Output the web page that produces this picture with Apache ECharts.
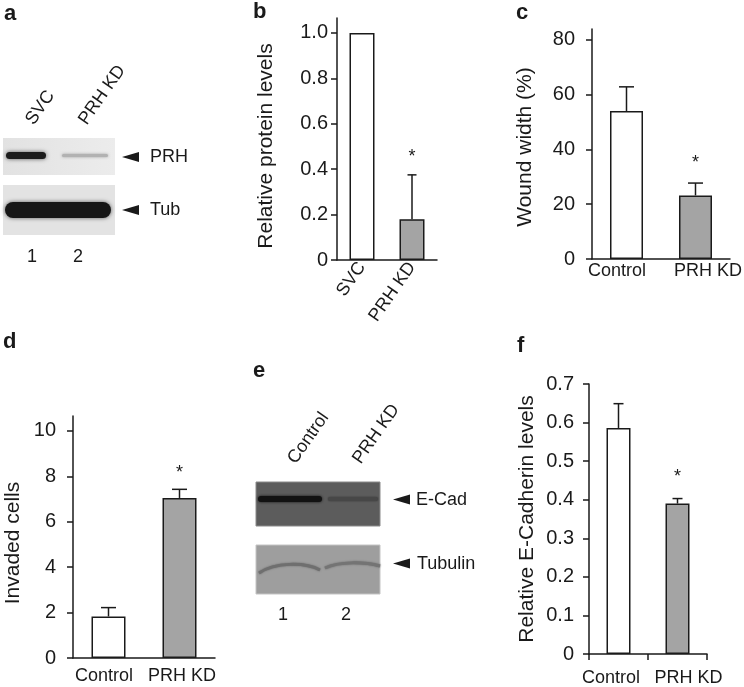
<!DOCTYPE html>
<html><head><meta charset="utf-8">
<script src="https://cdn.jsdelivr.net/npm/echarts@6/dist/echarts.min.js"></script>
<style>html,body{margin:0;padding:0;background:#fff}#c{width:744px;height:687px}</style>
</head><body><div id="c"></div>
<script>
// ---------- data ----------
const categoriesB = ['SVC', 'PRH KD'];
const valuesB = [1.0, 0.18];
const errorsB = [0, 0.195];
const signifB = [0, 1];
const ticksB = [0, 0.2, 0.4, 0.6, 0.8, 1.0];

const categoriesC = ['Control', 'PRH KD'];
const valuesC = [54, 23.2];
const errorsC = [8.8, 4.5];
const signifC = [0, 1];
const ticksC = [0, 20, 40, 60, 80];

const categoriesD = ['Control', 'PRH KD'];
const valuesD = [1.83, 7.05];
const errorsD = [0.39, 0.38];
const signifD = [0, 1];
const ticksD = [0, 2, 4, 6, 8, 10];

const categoriesF = ['Control', 'PRH KD'];
const valuesF = [0.586, 0.39];
const errorsF = [0.063, 0.013];
const signifF = [0, 1];
const ticksF = [0, 0.1, 0.2, 0.3, 0.4, 0.5, 0.6, 0.7];

const laneLabelsA = ['SVC', 'PRH KD'];
const laneNumbersA = ['1', '2'];
const bandLabelsA = ['PRH', 'Tub'];
const laneLabelsE = ['Control', 'PRH KD'];
const laneNumbersE = ['1', '2'];
const bandLabelsE = ['E-Cad', 'Tubulin'];
const panelLetters = ['a', 'b', 'c', 'd', 'e', 'f'];

// ---------- styling ----------
const FONT = "'Liberation Sans', Arial, Helvetica, sans-serif";
const INK = '#1a1a1a';
const GRAY = '#a4a4a4';
const chart = echarts.init(document.getElementById('c'), null, {renderer: 'canvas'});

const panels = [
  {cats: categoriesB, vals: valuesB, errs: errorsB, sig: signifB, ticks: ticksB, dec: 1, max: 1.066,
   name: 'Relative protein levels', grid: {left: 337, top: 18, width: 100, height: 242}, namePad: 14,
   nameGap: 60, yMargin: 9, xMargin: 4, rotate: 55, barWidth: 25, cap: 9, starGap: 18, xTicks: false, shifts: [0, 0]},
  {cats: categoriesC, vals: valuesC, errs: errorsC, sig: signifC, ticks: ticksC, dec: 0, max: 83.9,
   name: 'Wound width (%)', grid: {left: 592, top: 29, width: 142, height: 230}, namePad: 6,
   nameGap: 56, yMargin: 17, xMargin: 3, rotate: 0, barWidth: 33, cap: 15, starGap: 20, xTicks: false, shifts: [-9.5, 12.5]},
  {cats: categoriesD, vals: valuesD, errs: errorsD, sig: signifD, ticks: ticksD, dec: 0, max: 10.66,
   name: 'Invaded cells', grid: {left: 73, top: 416, width: 142, height: 242}, namePad: 12,
   nameGap: 49, yMargin: 17, xMargin: 9, rotate: 0, barWidth: 34, cap: 15, starGap: 16, xTicks: false, shifts: [-4.5, 2.5]},
  {cats: categoriesF, vals: valuesF, errs: errorsF, sig: signifF, ticks: ticksF, dec: 1, max: 0.7,
   name: 'Relative E-Cadherin levels', grid: {left: 589, top: 384, width: 118, height: 270}, namePad: 0,
   nameGap: 51, yMargin: 15, xMargin: 15, rotate: 0, barWidth: 24, cap: 10, starGap: 22, xTicks: true, shifts: [-7.5, 11]}
];

const grids = [], xAxes = [], yAxes = [], series = [];
panels.forEach((p, i) => {
  grids.push(Object.assign({containLabel: false}, p.grid));
  xAxes.push({
    gridIndex: i, type: 'category',
    data: p.cats.map((c, k) => {
      const s = p.shifts[k];
      return {value: c, textStyle: {padding: s < 0 ? [0, -2 * s, 0, 0] : [0, 0, 0, 2 * s]}};
    }),
    axisLine: {show: true, lineStyle: {color: INK, width: 1.5}},
    axisTick: {show: p.xTicks, length: 6, lineStyle: {color: INK, width: 1.5}},
    axisLabel: {fontSize: 18, fontFamily: FONT, color: INK, margin: p.xMargin, rotate: p.rotate, interval: 0},
    splitLine: {show: false}
  });
  yAxes.push({
    gridIndex: i, type: 'value', min: 0, max: p.max,
    axisLine: {show: true, lineStyle: {color: INK, width: 1.5}},
    axisTick: {show: true, length: 6, lineStyle: {color: INK, width: 1.5}, customValues: p.ticks},
    axisLabel: {customValues: p.ticks, fontSize: 20, fontFamily: FONT, color: INK, margin: p.yMargin,
      formatter: v => (v === 0 ? '0' : v.toFixed(p.dec))},
    splitLine: {show: false},
    name: p.name, nameLocation: 'middle', nameRotate: 90, nameGap: p.nameGap,
    nameTextStyle: {fontSize: 21, fontFamily: FONT, color: INK, padding: [0, p.namePad, 0, 0]}
  });
  series.push({
    type: 'bar', xAxisIndex: i, yAxisIndex: i, barWidth: p.barWidth, z: 2,
    itemStyle: {borderColor: INK, borderWidth: 1.5},
    data: p.vals.map((v, k) => ({value: v, itemStyle: {color: k === 0 ? '#ffffff' : GRAY}}))
  });
  series.push({
    type: 'custom', xAxisIndex: i, yAxisIndex: i, z: 3,
    data: p.vals.map((v, k) => [k, v, p.errs[k], p.sig[k]]),
    renderItem: (params, api) => {
      const k = api.value(0), v = api.value(1), e = api.value(2), s = api.value(3);
      const p0 = api.coord([k, v]);
      const p1 = api.coord([k, v + e]);
      const ch = [];
      if (e > 0) {
        ch.push({type: 'line', shape: {x1: p0[0], y1: p0[1], x2: p1[0], y2: p1[1]}, style: {stroke: INK, lineWidth: 1.5}});
        ch.push({type: 'line', shape: {x1: p1[0] - p.cap / 2, y1: p1[1], x2: p1[0] + p.cap / 2, y2: p1[1]}, style: {stroke: INK, lineWidth: 1.5}});
      }
      if (s) {
        ch.push({type: 'text', x: p1[0], y: p1[1] - p.starGap,
          style: {text: '*', font: '18px ' + FONT, fill: INK, align: 'center', verticalAlign: 'middle'}});
      }
      return {type: 'group', children: ch};
    }
  });
});

// ---------- blots & annotations ----------
function txt(x, y, t, opts) {
  return Object.assign({type: 'text', x: x, y: y, style: Object.assign({text: t, font: '18px ' + FONT, fill: INK,
    textAlign: 'left', textVerticalAlign: 'middle'}, (opts && opts.style) || {})}, (opts && opts.el) || {});
}
function arrow(x, y) {
  return {type: 'polygon', shape: {points: [[x, y], [x + 17, y - 5], [x + 17, y + 5]]}, style: {fill: INK}};
}
const rot = Math.PI * 55 / 180;
const letterPos = [[4, 14], [253, 12], [516, 13], [3, 342], [253, 371], [517, 346]];
const graphic = [];
panelLetters.forEach((l, i) => graphic.push(txt(letterPos[i][0], letterPos[i][1], l, {style: {font: 'bold 22px ' + FONT}})));

// panel a blot
graphic.push({type: 'rect', shape: {x: 3, y: 138, width: 112, height: 37},
  style: {fill: new echarts.graphic.LinearGradient(0, 0, 1, 0, [{offset: 0, color: '#e2e2e2'}, {offset: 1, color: '#ececec'}])}});
graphic.push({type: 'rect', shape: {x: 6, y: 152, width: 40, height: 7, r: 3.5},
  style: {fill: '#1c1c1c', shadowBlur: 4, shadowColor: 'rgba(0,0,0,0.6)'}});
graphic.push({type: 'rect', shape: {x: 62, y: 154, width: 46, height: 3, r: 1.5},
  style: {fill: '#b2b2b2', shadowBlur: 3, shadowColor: 'rgba(0,0,0,0.3)'}});
graphic.push({type: 'rect', shape: {x: 3, y: 185, width: 112, height: 50}, style: {fill: '#e3e3e3'}});
graphic.push({type: 'rect', shape: {x: 5, y: 202, width: 106, height: 16, r: 8},
  style: {fill: '#161616', shadowBlur: 4, shadowColor: 'rgba(0,0,0,0.6)'}});
graphic.push(arrow(122, 157), arrow(122, 210));
graphic.push(txt(150, 157, bandLabelsA[0]), txt(150, 210, bandLabelsA[1]));
graphic.push(txt(32, 257, laneNumbersA[0], {style: {textAlign: 'center'}}), txt(78, 257, laneNumbersA[1], {style: {textAlign: 'center'}}));
graphic.push(txt(37, 128, laneLabelsA[0], {el: {rotation: rot}, style: {textVerticalAlign: 'bottom'}}));
graphic.push(txt(90, 128, laneLabelsA[1], {el: {rotation: rot}, style: {textVerticalAlign: 'bottom'}}));

// panel e blot
graphic.push({type: 'rect', shape: {x: 256, y: 482, width: 124, height: 44}, style: {fill: '#5c5c5c', stroke: '#8a8a8a', lineWidth: 1}});
graphic.push({type: 'rect', shape: {x: 258, y: 496, width: 64, height: 6, r: 3},
  style: {fill: '#121212', shadowBlur: 3, shadowColor: 'rgba(0,0,0,0.8)'}});
graphic.push({type: 'rect', shape: {x: 328, y: 497, width: 50, height: 4, r: 2}, style: {fill: '#474747', shadowBlur: 2, shadowColor: '#333'}});
graphic.push({type: 'rect', shape: {x: 256, y: 545, width: 124, height: 49}, style: {fill: '#9e9e9e', stroke: '#c4c4c4', lineWidth: 1}});
graphic.push({type: 'bezierCurve', shape: {x1: 259, y1: 573, cpx1: 275, cpy1: 562, cpx2: 305, cpy2: 562, x2: 320, y2: 570},
  style: {stroke: '#6f6f6f', lineWidth: 3, fill: null, shadowBlur: 2, shadowColor: '#666'}});
graphic.push({type: 'bezierCurve', shape: {x1: 325, y1: 568, cpx1: 340, cpy1: 561, cpx2: 365, cpy2: 562, x2: 380, y2: 566},
  style: {stroke: '#747474', lineWidth: 3, fill: null, shadowBlur: 2, shadowColor: '#666'}});
graphic.push(arrow(393, 499.5), arrow(393, 563.5));
graphic.push(txt(416, 500, bandLabelsE[0]), txt(417, 564, bandLabelsE[1]));
graphic.push(txt(283, 615, laneNumbersE[0], {style: {textAlign: 'center'}}), txt(346, 615, laneNumbersE[1], {style: {textAlign: 'center'}}));
graphic.push(txt(299, 467, laneLabelsE[0], {el: {rotation: rot}, style: {textVerticalAlign: 'bottom'}}));
graphic.push(txt(364, 467, laneLabelsE[1], {el: {rotation: rot}, style: {textVerticalAlign: 'bottom'}}));

chart.setOption({
  animation: false,
  backgroundColor: '#ffffff',
  textStyle: {fontFamily: FONT},
  grid: grids, xAxis: xAxes, yAxis: yAxes, series: series,
  graphic: graphic
});
</script></body></html>
